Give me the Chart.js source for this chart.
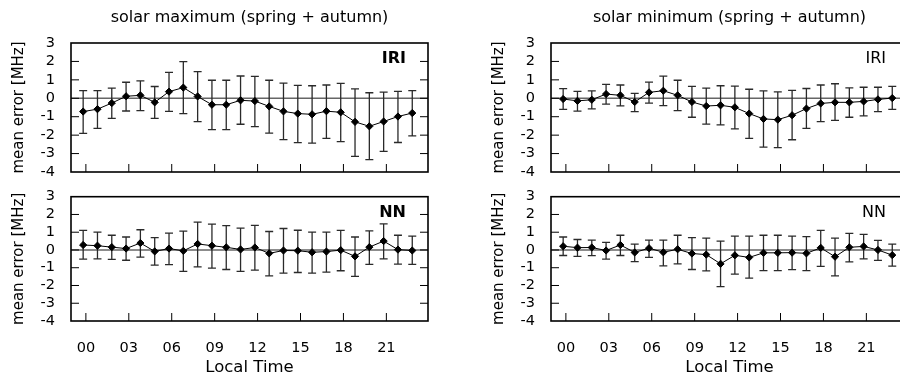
<!DOCTYPE html>
<html>
<head>
<meta charset="utf-8">
<script src="https://cdn.jsdelivr.net/npm/chart.js@4.4.1/dist/chart.umd.min.js"></script>
<style>
  html, body { margin: 0; padding: 0; background: #fff; }
  body { width: 900px; height: 382px; position: relative; overflow: hidden; }
  canvas { position: absolute; }
</style>
</head>
<body>
<canvas id="maxIri" width="499" height="190" style="left:0;top:0"></canvas>
<canvas id="maxNn" width="499" height="202" style="left:0;top:180px"></canvas>
<canvas id="minIri" width="499" height="190" style="left:480px;top:0"></canvas>
<canvas id="minNn" width="499" height="202" style="left:480px;top:180px"></canvas>
<script>
// local time of each sample (hours)
var hours = [0, 1, 2, 3, 4, 5, 6, 7, 8, 9, 10, 11, 12, 13, 14, 15, 16, 17, 18, 19, 20, 21, 22, 23];
var tickHours = [0, 3, 6, 9, 12, 15, 18, 21];
var tickLabels = ['00', '03', '06', '09', '12', '15', '18', '21'];
var yTicks = [-4, -3, -2, -1, 0, 1, 2, 3];

// solar maximum, IRI
var maxIriMean = [-0.72, -0.59, -0.26, 0.11, 0.16, -0.22, 0.36, 0.58, 0.10, -0.35, -0.35, -0.11, -0.15, -0.44, -0.71, -0.83, -0.87, -0.70, -0.76, -1.28, -1.52, -1.26, -0.99, -0.80];
var maxIriHigh = [0.42, 0.42, 0.55, 0.87, 0.94, 0.64, 1.41, 1.99, 1.45, 0.98, 0.98, 1.21, 1.19, 0.98, 0.82, 0.70, 0.68, 0.72, 0.81, 0.51, 0.30, 0.33, 0.38, 0.42];
var maxIriLow = [-1.90, -1.63, -1.09, -0.69, -0.67, -1.09, -0.71, -0.83, -1.27, -1.70, -1.70, -1.41, -1.54, -1.89, -2.24, -2.41, -2.43, -2.17, -2.35, -3.15, -3.33, -2.88, -2.40, -2.04];

// solar maximum, NN
var maxNnMean = [0.28, 0.24, 0.16, 0.08, 0.39, -0.08, 0.08, -0.05, 0.34, 0.24, 0.15, 0.03, 0.14, -0.19, -0.03, -0.04, -0.13, -0.09, -0.01, -0.36, 0.16, 0.50, 0.02, -0.03];
var maxNnHigh = [1.10, 1.00, 0.83, 0.73, 1.14, 0.69, 0.95, 1.06, 1.57, 1.45, 1.37, 1.23, 1.39, 1.04, 1.21, 1.11, 1.01, 1.01, 1.10, 0.73, 1.07, 1.47, 0.83, 0.78];
var maxNnLow = [-0.52, -0.50, -0.53, -0.58, -0.40, -0.85, -0.82, -1.20, -0.95, -1.02, -1.10, -1.21, -1.13, -1.46, -1.30, -1.27, -1.30, -1.25, -1.17, -1.49, -0.81, -0.50, -0.80, -0.81];

// solar minimum, IRI
var minIriMean = [-0.04, -0.14, -0.08, 0.23, 0.16, -0.20, 0.32, 0.41, 0.16, -0.20, -0.42, -0.38, -0.49, -0.83, -1.12, -1.16, -0.92, -0.56, -0.28, -0.22, -0.22, -0.17, -0.06, 0.01];
var minIriHigh = [0.52, 0.38, 0.40, 0.76, 0.72, 0.27, 0.88, 1.20, 0.98, 0.65, 0.55, 0.68, 0.66, 0.49, 0.40, 0.35, 0.43, 0.53, 0.72, 0.79, 0.56, 0.60, 0.60, 0.65];
var minIriLow = [-0.60, -0.70, -0.58, -0.32, -0.41, -0.72, -0.26, -0.40, -0.67, -1.03, -1.40, -1.44, -1.66, -2.17, -2.65, -2.68, -2.25, -1.63, -1.27, -1.20, -1.03, -0.95, -0.72, -0.60];

// solar minimum, NN
var minNnMean = [0.21, 0.13, 0.14, -0.03, 0.28, -0.14, 0.10, -0.13, 0.04, -0.20, -0.26, -0.78, -0.30, -0.42, -0.16, -0.16, -0.15, -0.19, 0.12, -0.38, 0.15, 0.20, 0.00, -0.29];
var minNnHigh = [0.73, 0.59, 0.56, 0.43, 0.83, 0.33, 0.56, 0.56, 0.83, 0.70, 0.67, 0.50, 0.78, 0.78, 0.83, 0.83, 0.78, 0.75, 1.10, 0.67, 0.94, 0.88, 0.54, 0.33];
var minNnLow = [-0.31, -0.36, -0.32, -0.51, -0.31, -0.66, -0.42, -0.89, -0.78, -1.10, -1.18, -2.06, -1.36, -1.58, -1.16, -1.16, -1.11, -1.16, -0.92, -1.46, -0.67, -0.50, -0.59, -0.91];

var FONT = 'DejaVu Sans';

// gnuplot-ish frame, inward ticks, zero line, error bars and panel label
function panelPlugin(cfg) {
    return {
        id: 'panel',
        beforeDatasetsDraw: function (chart) {
            var ctx = chart.ctx, a = chart.chartArea, x = chart.scales.x, y = chart.scales.y;
            ctx.save();
            var y0 = y.getPixelForValue(0);
            ctx.strokeStyle = '#666';
            ctx.lineWidth = 1.5;
            ctx.beginPath();
            ctx.moveTo(a.left, y0);
            ctx.lineTo(a.right, y0);
            ctx.stroke();

            ctx.strokeStyle = '#2a2a2a';
            ctx.lineWidth = 1.3;
            ctx.beginPath();
            hours.forEach(function (h, i) {
                var px = x.getPixelForValue(h);
                var top = y.getPixelForValue(cfg.high[i]);
                var bot = y.getPixelForValue(cfg.low[i]);
                ctx.moveTo(px, top);
                ctx.lineTo(px, bot);
                ctx.moveTo(px - 4, top);
                ctx.lineTo(px + 4, top);
                ctx.moveTo(px - 4, bot);
                ctx.lineTo(px + 4, bot);
            });
            ctx.stroke();
            ctx.restore();
        },
        afterDatasetsDraw: function (chart) {
            var ctx = chart.ctx, a = chart.chartArea, x = chart.scales.x, y = chart.scales.y;
            ctx.save();
            ctx.strokeStyle = '#000';
            ctx.lineWidth = 1;
            ctx.beginPath();
            y.ticks.forEach(function (t) {
                if (t.value <= y.min || t.value >= y.max) return;
                var py = y.getPixelForValue(t.value);
                ctx.moveTo(a.left, py);
                ctx.lineTo(a.left + 8, py);
                ctx.moveTo(a.right - 8, py);
                ctx.lineTo(a.right, py);
            });
            x.ticks.forEach(function (t) {
                var px = x.getPixelForValue(t.value);
                ctx.moveTo(px, a.bottom);
                ctx.lineTo(px, a.bottom - 8);
            });
            ctx.stroke();

            ctx.lineWidth = 1.6;
            ctx.strokeRect(a.left, a.top, a.right - a.left, a.bottom - a.top);

            ctx.fillStyle = '#000';
            ctx.font = (cfg.bold ? 'bold ' : '') + '16px "' + FONT + '"';
            ctx.textAlign = 'right';
            ctx.textBaseline = 'alphabetic';
            ctx.fillText(cfg.label, a.right - 22, a.top + 20);
            ctx.restore();
        }
    };
}

function makePanel(id, cfg) {
    var points = hours.map(function (h, i) { return {x: h, y: cfg.mean[i]}; });
    return new Chart(document.getElementById(id), {
        type: 'scatter',
        data: {
            datasets: [{
                data: points,
                showLine: true,
                borderColor: '#000',
                borderWidth: 1,
                pointStyle: 'rectRot',
                pointRadius: 3.6,
                pointBackgroundColor: '#000',
                pointBorderColor: '#000',
                pointBorderWidth: 1
            }]
        },
        options: {
            responsive: false,
            animation: false,
            events: [],
            layout: {padding: {top: cfg.bottomRow ? 12 : 0, left: 0, right: 0, bottom: 0}},
            plugins: {
                legend: {display: false},
                tooltip: {enabled: false},
                title: {
                    display: !!cfg.title,
                    text: cfg.title || '',
                    color: '#000',
                    font: {family: FONT, size: 16, weight: 'normal'},
                    padding: {top: 8.2, bottom: 15.6}
                }
            },
            scales: {
                x: {
                    type: 'linear',
                    min: -0.85,
                    max: 24.1,
                    grid: {display: false},
                    border: {display: false},
                    afterBuildTicks: function (s) {
                        s.ticks = tickHours.map(function (h) { return {value: h + 0.19}; });
                    },
                    afterFit: function (s) { s.height = cfg.bottomRow ? 61 : 18; },
                    ticks: {
                        display: !!cfg.bottomRow,
                        autoSkip: false,
                        maxRotation: 0,
                        padding: 11,
                        color: '#000',
                        font: {family: FONT, size: 14.5},
                        callback: function (v, i) { return tickLabels[i]; }
                    },
                    title: {
                        display: !!cfg.bottomRow,
                        text: 'Local Time',
                        color: '#000',
                        font: {family: FONT, size: 16.5},
                        padding: {top: 0, bottom: 4.5}
                    }
                },
                y: {
                    position: 'left',
                    min: -4,
                    max: 3,
                    grid: {display: false},
                    border: {display: false},
                    afterBuildTicks: function (s) {
                        s.ticks = yTicks.map(function (v) { return {value: v}; });
                    },
                    afterFit: function (s) { s.width = 71; },
                    ticks: {
                        autoSkip: false,
                        padding: 8,
                        color: '#000',
                        font: {family: FONT, size: 14.5}
                    },
                    title: {
                        display: true,
                        text: 'mean error [MHz]',
                        color: '#000',
                        font: {family: FONT, size: 15},
                        padding: {top: 10, bottom: 0}
                    }
                },
                y2: {
                    position: 'right',
                    min: -4,
                    max: 3,
                    grid: {display: false},
                    border: {display: false},
                    ticks: {display: false},
                    afterFit: function (s) { s.width = 71; }
                }
            }
        },
        plugins: [panelPlugin(cfg)]
    });
}

makePanel('maxIri', {title: 'solar maximum (spring + autumn)', label: 'IRI', bold: true,
    mean: maxIriMean, high: maxIriHigh, low: maxIriLow});
makePanel('maxNn', {bottomRow: true, label: 'NN', bold: true,
    mean: maxNnMean, high: maxNnHigh, low: maxNnLow});
makePanel('minIri', {title: 'solar minimum (spring + autumn)', label: 'IRI', bold: false,
    mean: minIriMean, high: minIriHigh, low: minIriLow});
makePanel('minNn', {bottomRow: true, label: 'NN', bold: false,
    mean: minNnMean, high: minNnHigh, low: minNnLow});
</script>
</body>
</html>
